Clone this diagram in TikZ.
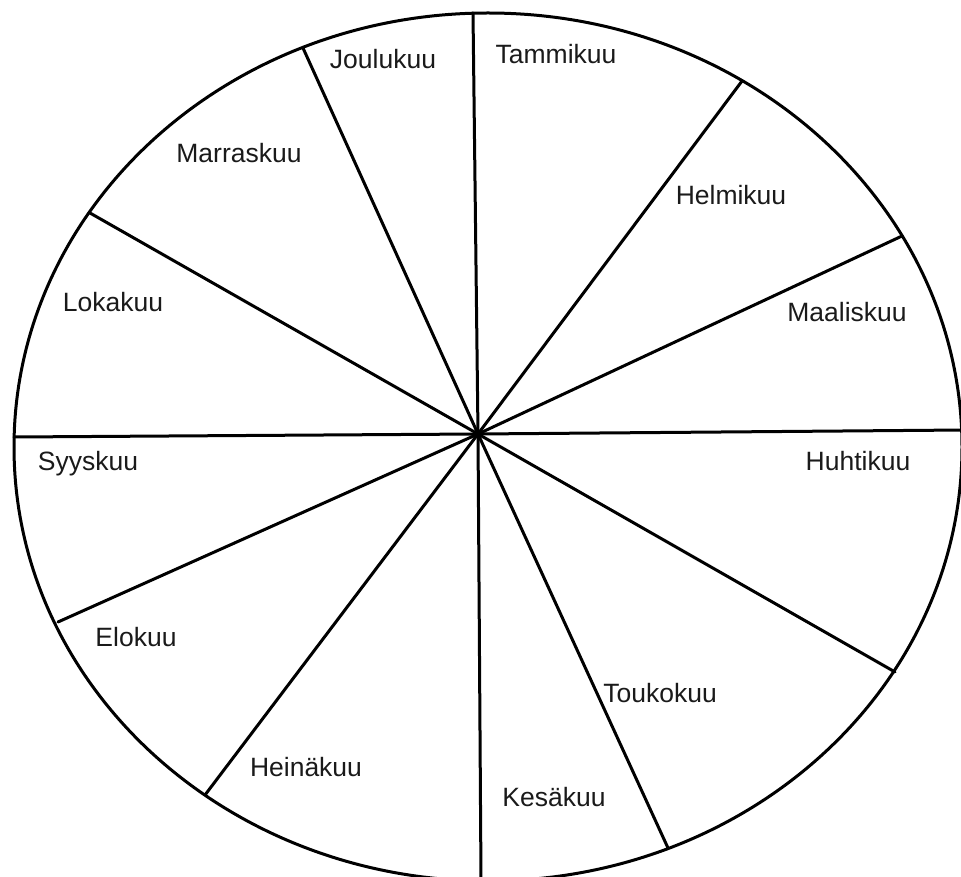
\documentclass[tikz,border=0pt]{standalone}
\usepackage{fontspec}
\setmainfont{Liberation Sans}
\definecolor{darkline}{HTML}{000000}
\definecolor{labeltext}{HTML}{1A1A1A}
\tikzset{
  wheel/.style={draw=darkline, line width=3pt},
  spoke/.style={draw=darkline, line width=3pt, line cap=round},
  month/.style={anchor=base, inner sep=0pt, text=labeltext, font=\fontsize{26.5}{30}\selectfont}
}

\begin{document}
\begin{tikzpicture}[x=1pt, y=-1pt]
\useasboundingbox (0,0) rectangle (961,877);
\clip (0,0) rectangle (961,877);

% Rim of the year wheel
\draw[wheel] (488,447) ellipse [x radius=474, y radius=434];

% Hub and rim points
\coordinate (hub) at (478,434);
\foreach \n/\px/\py in {1/473/13, 2/742/81, 3/902/236, 4/964/430, 5/895/672, 6/668/848,
                        7/481/880, 8/205/795, 9/58/622, 10/14/437, 11/90/213, 12/303/48} {
  \coordinate (rim\n) at (\px,\py);
}

% Spokes
\foreach \n in {1,...,12} { \draw[spoke] (hub) -- (rim\n); }

% Months
\node[month] (tammi)  at (556,64)  {Tammikuu};
\node[month] (helmi)  at (731,205) {Helmikuu};
\node[month] (maalis) at (847,322) {Maaliskuu};
\node[month] (huhti)  at (858,470) {Huhtikuu};
\node[month] (touko)  at (660,702) {Toukokuu};
\node[month] (kesa)   at (554,806) {Kesäkuu};
\node[month] (heina)  at (306,776) {Heinäkuu};
\node[month] (elo)    at (136,646) {Elokuu};
\node[month] (syys)   at (88,470)  {Syyskuu};
\node[month] (loka)   at (113,312) {Lokakuu};
\node[month] (marras) at (239,163) {Marraskuu};
\node[month] (joulu)  at (383,69)  {Joulukuu};

\end{tikzpicture}
\end{document}
